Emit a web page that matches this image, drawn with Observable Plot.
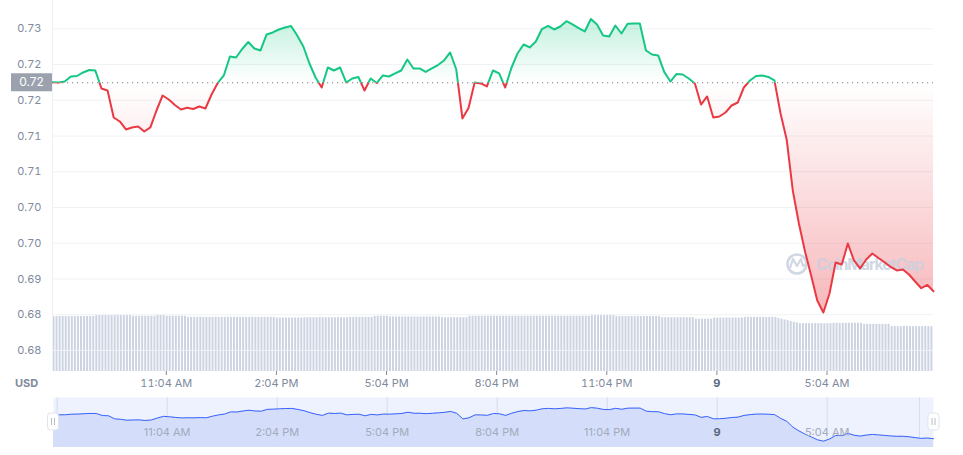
<!DOCTYPE html>
<html><head><meta charset="utf-8">
<script src="https://cdn.jsdelivr.net/npm/d3@7"></script>
<script src="https://cdn.jsdelivr.net/npm/@observablehq/plot@0.6"></script>
<style>
body{margin:0;background:#fff;font-family:Inter,"Noto Sans",sans-serif;}
#wrap{position:relative;width:963px;height:455px;overflow:hidden;background:#fff;}
#wrap svg{position:absolute;left:0;}
#usd{position:absolute;left:15px;top:376px;font:700 11px Inter,sans-serif;color:#808a9d;}
</style></head><body><div id="wrap"><div id="usd">USD</div></div>
<script>
// ---------- data ----------
const startTime = "2022-06-08T07:58:00Z";   // first sample
const priceStepMinutes = 10;
const volumeStepMinutes = 5;
const openPrice = 0.7202;

const prices = [
  0.72029, 0.72024, 0.72039, 0.72116, 0.72124, 0.72178, 0.72216, 0.72209, 0.71932, 0.71901,
  0.71485, 0.71424, 0.71301, 0.71332, 0.71347, 0.71270, 0.71332, 0.71593, 0.71824, 0.71762,
  0.71678, 0.71609, 0.71635, 0.71616, 0.71655, 0.71624, 0.71839, 0.72016, 0.72132, 0.72424,
  0.72409, 0.72540, 0.72647, 0.72547, 0.72517, 0.72763, 0.72794, 0.72840, 0.72871, 0.72894,
  0.72747, 0.72578, 0.72316, 0.72101, 0.71947, 0.72255, 0.72209, 0.72255, 0.72024, 0.72086,
  0.72109, 0.71901, 0.72086, 0.72016, 0.72132, 0.72116, 0.72163, 0.72209, 0.72378, 0.72240,
  0.72240, 0.72186, 0.72240, 0.72293, 0.72363, 0.72486, 0.72224, 0.71470, 0.71632, 0.72024,
  0.72009, 0.71963, 0.72209, 0.72163, 0.71947, 0.72247, 0.72470, 0.72609, 0.72563, 0.72655,
  0.72847, 0.72894, 0.72840, 0.72886, 0.72967, 0.72917, 0.72860, 0.72809, 0.73001, 0.72917,
  0.72747, 0.72732, 0.72901, 0.72778, 0.72927, 0.72932, 0.72932, 0.72517, 0.72455, 0.72440,
  0.72183, 0.72039, 0.72155, 0.72147, 0.72086, 0.72009, 0.71685, 0.71809, 0.71485, 0.71501,
  0.71562, 0.71670, 0.71716, 0.71947, 0.72055, 0.72124, 0.72132, 0.72109, 0.72055, 0.71547,
  0.71147, 0.70362, 0.69854, 0.69423, 0.69054, 0.68669, 0.68484, 0.68777, 0.69254, 0.69223,
  0.69546, 0.69285, 0.69162, 0.69300, 0.69392, 0.69323, 0.69258, 0.69185, 0.69131, 0.69146,
  0.69069, 0.68961, 0.68858, 0.68908, 0.68812
];

const volumes = [
  14.8,14.8,14.8,14.8,14.8,14.8,14.8,14.8,14.8,14.8,14.8,14.8,14.8,14.8,
  15.2,15.2,15.2,15.2,15.2,15.2,15.2,15.2,15.2,15.2,15.2,15.2,
  14.9,14.9,14.9,14.9,14.9,14.9,14.9,14.9,
  15.2,15.2,15.2,
  14.9,14.9,14.9,14.9,14.9,14.9,14.9,
  14.6,14.6,14.6,14.6,14.6,14.6,14.6,14.6,14.6,14.6,14.6,14.6,14.6,14.6,14.6,14.6,14.6,14.6,14.6,14.6,14.6,14.6,14.6,14.6,14.6,14.6,14.6,14.6,14.6,
  14.4,14.4,14.4,14.4,14.4,14.4,14.4,14.4,14.4,
  14.5,14.5,14.5,14.5,14.5,14.5,14.5,14.5,14.5,14.5,14.5,14.5,14.5,14.5,14.5,
  14.6,14.6,14.6,14.6,14.6,14.6,14.6,14.6,
  14.9,14.9,14.9,14.9,14.9,
  14.7,14.7,14.7,14.7,14.7,14.7,14.7,14.7,14.7,14.7,14.7,14.7,14.7,14.7,14.7,14.7,14.7,
  14.5,14.5,14.5,14.5,14.5,14.5,14.5,14.5,14.5,
  14.9,14.9,14.9,14.9,14.9,14.9,14.9,14.9,14.9,14.9,14.9,14.9,14.9,14.9,14.9,14.9,14.9,14.9,14.9,14.9,
  14.9,14.9,14.9,14.9,14.9,14.9,14.9,14.9,14.9,14.9,14.9,14.9,14.9,14.9,14.9,14.9,14.9,14.9,14.9,14.9,
  15.2,15.2,15.2,15.2,15.2,15.2,15.2,15.2,
  14.8,14.8,14.8,14.8,14.8,14.8,14.8,14.8,14.8,14.8,14.8,14.8,14.8,14.8,14.8,
  14.5,14.5,14.5,14.5,14.5,14.5,14.5,14.5,14.5,14.5,14.5,
  14.1,14.1,14.1,14.1,14.1,14.1,
  14.4,14.4,14.4,14.4,14.4,14.4,14.4,14.4,14.4,14.4,
  14.6,14.6,14.6,14.6,14.6,14.6,14.6,14.6,14.6,14.6,14.6,
  14.3,14.1,13.9,13.7,13.5,13.3,13.1,
  12.9,12.9,12.9,12.9,12.9,12.9,12.9,12.9,12.9,12.9,12.9,
  13.0,13.0,13.0,13.0,13.0,13.0,13.0,13.0,13.0,13.0,
  12.7,12.7,12.7,12.7,12.7,12.7,12.7,12.7,12.7,
  12.1,12.1,12.1,12.1,12.1,12.1,12.1,12.1,12.1,12.1,12.1,12.1,12.1,12.1
];

const yTicks = [0.7285, 0.723, 0.7175, 0.712, 0.7065, 0.701, 0.6955, 0.690, 0.6845, 0.679];
const yTickLabels = ["0.73","0.72","0.72","0.71","0.71","0.70","0.70","0.69","0.68","0.68"];
const xTickTimes = ["2022-06-08T11:04:00Z","2022-06-08T14:04:00Z","2022-06-08T17:04:00Z","2022-06-08T20:04:00Z","2022-06-08T23:04:00Z","2022-06-09T02:04:00Z","2022-06-09T05:04:00Z"];
const xTickLabels = ["11:04 AM","2:04 PM","5:04 PM","8:04 PM","11:04 PM","9","5:04 AM"];
const navGridTimes = ["2022-06-08T08:04:00Z","2022-06-08T11:04:00Z","2022-06-08T14:04:00Z","2022-06-08T17:04:00Z","2022-06-08T20:04:00Z","2022-06-08T23:04:00Z","2022-06-09T02:04:00Z","2022-06-09T05:04:00Z","2022-06-09T07:35:00Z"];
const yDomain = [0.67576, 0.73286];
const navYDomain = [0.6763, 0.7436];
const volumeDomain = [0, 100];

// ---------- derived tables ----------
const MIN = 60000;
const t0 = +new Date(startTime);
const start = new Date(t0), end = new Date(t0 + 24 * 60 * MIN);
const priceData = prices.map((p, i) => ({t: new Date(t0 + i * priceStepMinutes * MIN), p}));
const volData = volumes.map((v, i) => ({t1: new Date(t0 + i * volumeStepMinutes * MIN), t2: new Date(t0 + (i + 1) * volumeStepMinutes * MIN), v}));
const xTickDates = xTickTimes.map(s => new Date(s));
const xLabelOf = new Map(xTickDates.map((d, i) => [+d, xTickLabels[i]]));
const yLabelOf = new Map(yTicks.map((v, i) => [v, yTickLabels[i]]));
const navGrid = navGridTimes.map(s => new Date(s));

const W = 963, H = 395;
const common = {width: W, height: H, marginLeft: 52, marginRight: 30, marginTop: 0, marginBottom: 24};
const wrap = document.getElementById("wrap");

// ---------- volume layer ----------
const volSvg = Plot.plot({
  ...common,
  style: {background: "transparent"},
  x: {type: "utc", domain: [start, end], axis: null},
  y: {domain: volumeDomain, axis: null},
  marks: [
    Plot.rectY(volData, {x1: "t1", x2: "t2", y1: 0, y2: "v", fill: "#ccd3e1", insetLeft: 0.5, insetRight: 0.6})
  ]
});
volSvg.style.top = "0px";
wrap.appendChild(volSvg);

// ---------- price layer ----------
const chart = Plot.plot({
  ...common,
  style: {background: "transparent", fontFamily: "Inter, sans-serif", fontSize: "11px", color: "#808a9d"},
  x: {type: "utc", domain: [start, end], ticks: xTickDates, tickFormat: d => xLabelOf.get(+d) ?? "", tickSize: 4, tickPadding: 4, label: null},
  y: {domain: yDomain, ticks: yTicks, tickFormat: v => yLabelOf.get(v) ?? "", tickSize: 0, tickPadding: 11, label: null},
  marks: [
    Plot.ruleY(yTicks, {stroke: "#eff2f5", strokeWidth: 1}),
    Plot.ruleX([start], {stroke: "#eff2f5"}),
    Plot.areaY(priceData, {x: "t", y1: openPrice, y2: "p", fill: "#00fe01"}),
    Plot.areaY(priceData, {x: "t", y1: openPrice, y2: "p", fill: "#fe0001"}),
    Plot.ruleY([openPrice], {stroke: "#7d7d7d", strokeWidth: 1.2, strokeDasharray: "1.2,3.8"}),
    Plot.line(priceData, {x: "t", y: "p", stroke: "#16c784", strokeWidth: 2, strokeLinejoin: "round"}),
    Plot.line(priceData, {x: "t", y: "p", stroke: "#ea3943", strokeWidth: 2, strokeLinejoin: "round"})
  ]
});
chart.style.top = "0px";
chart.style.background = "transparent";
wrap.appendChild(chart);

(function post() {
  const y = chart.scale("y");
  const yb = y.apply(openPrice);
  const yTop = y.apply(d3.max(prices)), yBot = y.apply(d3.min(prices));
  const s = d3.select(chart);
  const defs = s.insert("defs", ":first-child");
  defs.append("clipPath").attr("id", "clipAbove").append("rect").attr("x", 0).attr("y", -20).attr("width", W).attr("height", yb + 20);
  defs.append("clipPath").attr("id", "clipBelow").append("rect").attr("x", 0).attr("y", yb).attr("width", W).attr("height", H);
  const gg = defs.append("linearGradient").attr("id", "gGreen").attr("gradientUnits", "userSpaceOnUse")
    .attr("x1", 0).attr("x2", 0).attr("y1", yTop).attr("y2", yb);
  gg.append("stop").attr("offset", 0).attr("stop-color", "#16c784").attr("stop-opacity", 0.26);
  gg.append("stop").attr("offset", 1).attr("stop-color", "#16c784").attr("stop-opacity", 0);
  const gr = defs.append("linearGradient").attr("id", "gRed").attr("gradientUnits", "userSpaceOnUse")
    .attr("x1", 0).attr("x2", 0).attr("y1", yb).attr("y2", yBot);
  gr.append("stop").attr("offset", 0).attr("stop-color", "#ea3943").attr("stop-opacity", 0);
  gr.append("stop").attr("offset", 1).attr("stop-color", "#ea3943").attr("stop-opacity", 0.36);

  s.selectAll('g[fill="#00fe01"]').attr("fill", "url(#gGreen)").attr("clip-path", "url(#clipAbove)");
  s.selectAll('g[fill="#fe0001"]').attr("fill", "url(#gRed)").attr("clip-path", "url(#clipBelow)");
  const greenLine = s.select('g[stroke="#16c784"]').attr("clip-path", "url(#clipAbove)");
  s.select('g[stroke="#ea3943"]').attr("clip-path", "url(#clipBelow)");

  // watermark
  const wm = d3.create("svg:g").attr("opacity", 0.85);
  wm.append("circle").attr("cx", 797).attr("cy", 264).attr("r", 9.5).attr("fill", "none").attr("stroke", "#c9d1df").attr("stroke-width", 2.6);
  wm.append("path").attr("d", "M790,268 L793,259 L797,266 L801,259 L803,266 L806,264").attr("fill", "none").attr("stroke", "#c9d1df").attr("stroke-width", 2.2).attr("stroke-linejoin", "round");
  wm.append("text").attr("x", 816).attr("y", 264).attr("dy", "0.35em").attr("text-anchor", "start")
    .attr("font-size", 16).attr("font-weight", 700)
    .attr("font-family", "Inter, sans-serif").attr("fill", "#c9d1df").attr("textLength", 108).text("CoinMarketCap");
  chart.insertBefore(wm.node(), greenLine.node());

  // current price tag
  s.append("rect").attr("x", 11).attr("y", yb - 9).attr("width", 41).attr("height", 18).attr("fill", "#9ba1ad");
  s.append("text").attr("x", 31.5).attr("y", yb).attr("dy", "0.35em").attr("text-anchor", "middle")
    .attr("fill", "#ffffff").attr("font-size", 12).attr("font-family", "Inter, sans-serif").text(openPrice.toFixed(2));

  s.selectAll("text").filter(function () { return this.textContent === "9"; })
    .attr("font-weight", 700).attr("fill", "#58667e");
})();

// ---------- navigator ----------
const nav = Plot.plot({
  width: W, height: 50, marginLeft: 53, marginRight: 30, marginTop: 0, marginBottom: 0,
  style: {background: "transparent", fontFamily: "Inter, sans-serif", fontSize: "11px"},
  x: {type: "utc", domain: [start, end], axis: null},
  y: {domain: navYDomain, axis: null},
  marks: [
    Plot.frame({fill: "#edf2fe", stroke: "none"}),
    Plot.areaY(priceData, {x: "t", y1: navYDomain[0], y2: "p", fill: "#d4defb"}),
    Plot.ruleX(navGrid, {stroke: "#d5dcee", strokeWidth: 1}),
    Plot.line(priceData, {x: "t", y: "p", stroke: "#3861fb", strokeWidth: 1}),
    Plot.text(xTickDates, {x: d => d, text: d => xLabelOf.get(+d), frameAnchor: "bottom", dy: -12, fill: "#a3aabb"})
  ]
});
nav.style.top = "397px";
wrap.appendChild(nav);
(function () {
  const s = d3.select(nav);
  for (const hx of [47.5, 928]) {
    const g = s.append("g");
    g.append("rect").attr("x", hx).attr("y", 16).attr("width", 11).attr("height", 17).attr("rx", 3)
      .attr("fill", "#ffffff").attr("stroke", "#dfe4ee");
    g.append("line").attr("x1", hx + 4).attr("x2", hx + 4).attr("y1", 21).attr("y2", 28).attr("stroke", "#b4bccb");
    g.append("line").attr("x1", hx + 7).attr("x2", hx + 7).attr("y1", 21).attr("y2", 28).attr("stroke", "#b4bccb");
  }
  s.selectAll("text").filter(function () { return this.textContent === "9"; })
    .attr("font-weight", 700).attr("fill", "#58667e");
})();
</script></body></html>
